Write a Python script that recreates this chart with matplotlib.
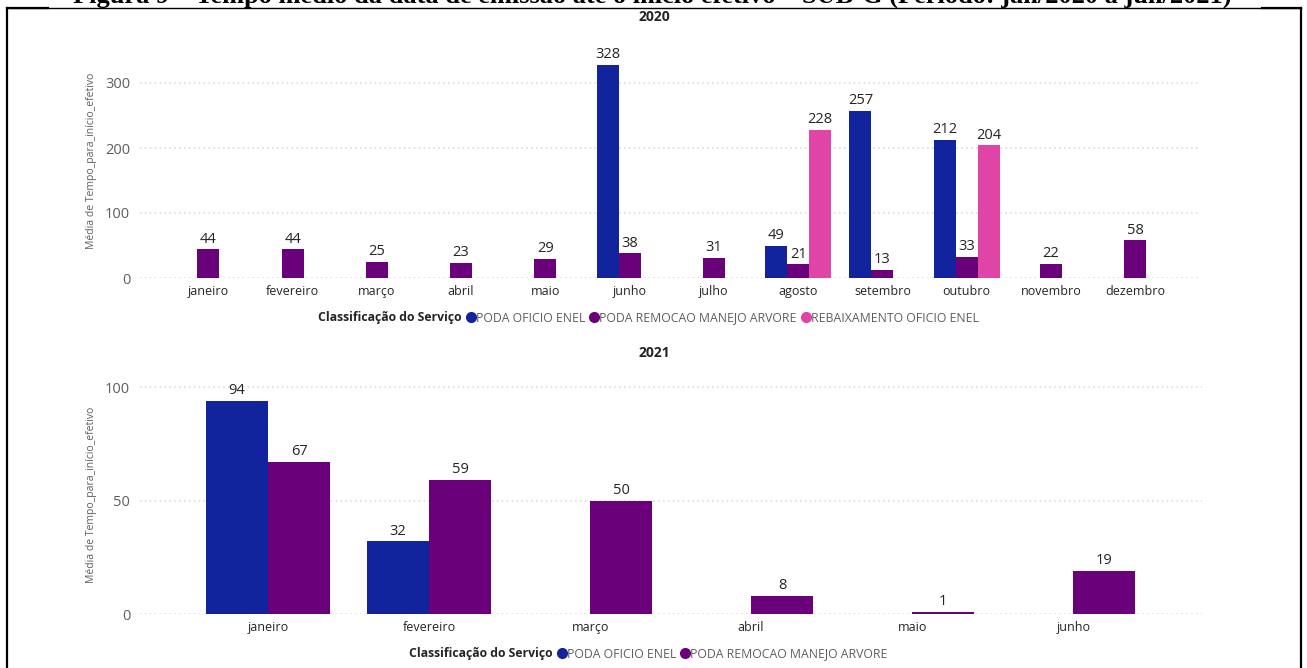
import numpy as np
import matplotlib
matplotlib.use("Agg")
import matplotlib.pyplot as plt
from matplotlib.lines import Line2D

plt.rcParams["font.family"] = ["Open Sans", "Noto Sans", "DejaVu Sans"]

# --- data -------------------------------------------------------------
meses_2020 = ["janeiro", "fevereiro", "março", "abril", "maio", "junho",
              "julho", "agosto", "setembro", "outubro", "novembro", "dezembro"]
oficio_2020 = [np.nan, np.nan, np.nan, np.nan, np.nan, 328,
               np.nan, 49, 257, 212, np.nan, np.nan]
remocao_2020 = [44, 44, 25, 23, 29, 38, 31, 21, 13, 33, 22, 58]
rebaix_2020 = [np.nan, np.nan, np.nan, np.nan, np.nan, np.nan,
               np.nan, 228, np.nan, 204, np.nan, np.nan]

meses_2021 = ["janeiro", "fevereiro", "março", "abril", "maio", "junho"]
oficio_2021 = [94, 32, np.nan, np.nan, np.nan, np.nan]
remocao_2021 = [67, 59, 50, 8, 1, 19]

series_names = ["PODA OFICIO ENEL", "PODA REMOCAO MANEJO ARVORE",
                "REBAIXAMENTO OFICIO ENEL"]
colors = ["#12239E", "#6B007B", "#E044A7"]

caption = ("Figura 9 – Tempo médio da data de emissão até o início efetivo – "
           "SUB-G (Período: jan/2020 a jun/2021)")
ylabel = "Média de Tempo_para_início_efetivo"

TXT = "#252423"
GREY = "#605E5C"

W, H = 1307, 668
fig = plt.figure(figsize=(W / 100, H / 100), dpi=100)


def px_axes(x0, y0, x1, y1):
    # pixel box (top-left origin) -> figure axes
    return fig.add_axes([x0 / W, 1 - y1 / H, (x1 - x0) / W, (y1 - y0) / H])


def style(ax, ymax, yticks, xlim, labels):
    ax.set_ylim(0, ymax)
    ax.set_xlim(*xlim)
    ax.set_yticks(yticks)
    ax.set_xticks(range(len(labels)))
    ax.set_xticklabels(labels)
    for s in ax.spines.values():
        s.set_visible(False)
    ax.tick_params(axis="both", length=0)
    ax.tick_params(axis="y", labelsize=10.5, labelcolor=GREY, pad=7)
    ax.tick_params(axis="x", labelsize=9, labelcolor=TXT, pad=5)
    for t in yticks:
        ax.axhline(t, color="#D6D6D6", lw=1.1, ls=(0, (1, 2.2)), zorder=0)
    ax.set_ylabel(ylabel, fontsize=7.5, color=GREY)
    ax.yaxis.set_label_coords(-43 / 1061, 0.5)


def bars(ax, x, vals, offset, width, color):
    vals = np.asarray(vals, dtype=float)
    m = ~np.isnan(vals)
    b = ax.bar(x[m] + offset, vals[m], width, color=color, zorder=2)
    ax.bar_label(b, labels=[f"{v:.0f}" for v in vals[m]], padding=2,
                 fontsize=10.5, color=TXT)


# --- 2020 -------------------------------------------------------------
ax1 = px_axes(140, 44, 1201, 278)
x1 = np.arange(len(meses_2020))
w1 = 0.261
bars(ax1, x1, oficio_2020, -w1, w1, colors[0])
bars(ax1, x1, remocao_2020, 0, w1, colors[1])
bars(ax1, x1, rebaix_2020, w1, w1, colors[2])
style(ax1, 360, [0, 100, 200, 300], (-0.81, 11.78), meses_2020)
fig.text(654 / W, 1 - 17 / H, "2020", ha="center", va="center",
         fontsize=10, fontweight="bold", color=TXT)

# --- 2021 -------------------------------------------------------------
ax2 = px_axes(140, 375, 1202, 614)
x2 = np.arange(len(meses_2021))
w2 = 0.385
bars(ax2, x2, oficio_2021, -w2 / 2, w2, colors[0])
bars(ax2, x2, remocao_2021, w2 / 2, w2, colors[1])
style(ax2, 105.3, [0, 50, 100], (-0.795, 5.80), meses_2021)
fig.text(654 / W, 1 - 353 / H, "2021", ha="center", va="center",
         fontsize=10, fontweight="bold", color=TXT)


# --- legends ----------------------------------------------------------
def legend(names, cols, y):
    handles = [Line2D([], [], ls="none", marker="none")]
    handles += [Line2D([], [], ls="none", marker="o", ms=7, color=c) for c in cols]
    lg = fig.legend(handles, ["Classificação do Serviço"] + names,
                    loc="center", bbox_to_anchor=(644 / W, 1 - y / H),
                    ncol=len(handles), frameon=False, fontsize=8.8,
                    handlelength=0.6, handletextpad=0.1, columnspacing=0.45,
                    labelcolor=GREY)
    lg.get_texts()[0].set_fontweight("bold")
    lg.get_texts()[0].set_color(TXT)


legend(series_names, colors, 318)
legend(series_names[:2], colors[:2], 654)

# --- page frame and clipped caption ------------------------------------
fig.text(652 / W, 1 - 2.5 / H, caption, ha="center", va="baseline",
         fontsize=19, fontweight="bold", family="Liberation Serif")
frame = dict(color="black", transform=fig.transFigure)
fig.add_artist(Line2D([7 / W, 7 / W], [0, 1 - 8 / H], lw=1.6, **frame))
fig.add_artist(Line2D([1301 / W, 1301 / W], [0, 1 - 8 / H], lw=1.6, **frame))
fig.add_artist(Line2D([7 / W, 1301 / W], [1 - 8 / H, 1 - 8 / H], lw=1.0, **frame))
fig.add_artist(Line2D([7 / W, 48 / W], [1 - 8 / H, 1 - 8 / H], lw=1.6, **frame))
fig.add_artist(Line2D([1262 / W, 1301 / W], [1 - 8 / H, 1 - 8 / H], lw=1.6, **frame))

fig.savefig("out.png", dpi=100)
